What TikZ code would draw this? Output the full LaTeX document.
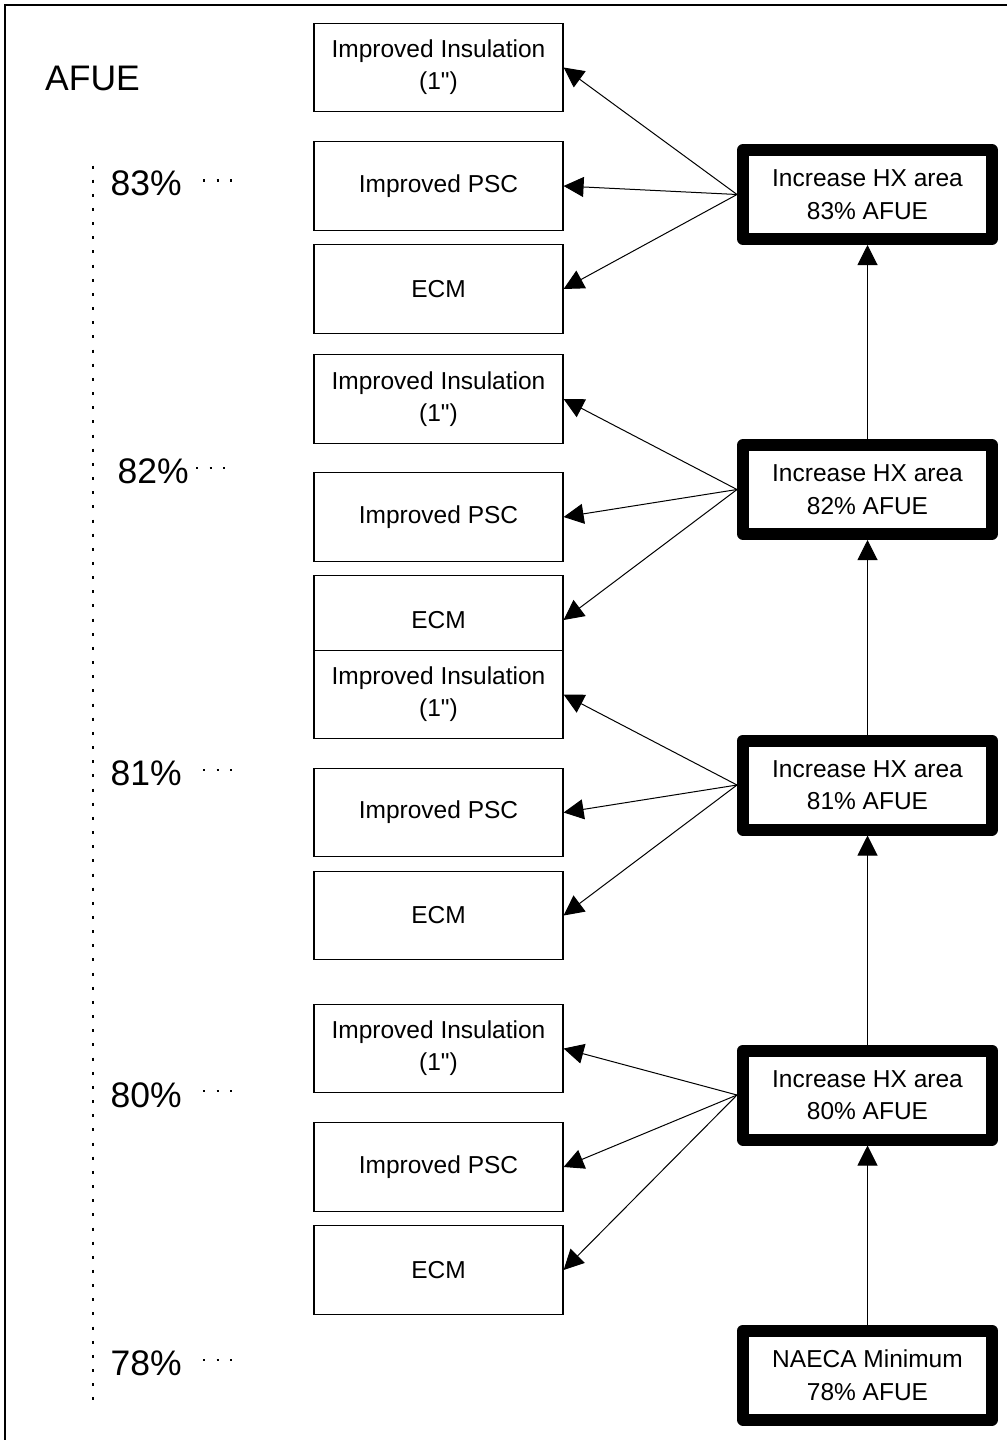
\documentclass[tikz,border=0pt]{standalone}
\usepackage{fontspec}
\setmainfont{Liberation Sans}
\font\qfont="Liberation Sans" at 24.5pt
\newcommand{\inch}{{\qfont"}}
\usetikzlibrary{arrows.meta}
\begin{document}
\begin{tikzpicture}[x=1pt,y=-1pt,
  opt/.style={draw=black, line width=1.2pt, fill=white, minimum width=249pt, minimum height=88.5pt, inner sep=0pt, align=center, font=\fontsize{24.5}{32}\selectfont},
  hx/.style={draw=black, line width=12pt, line join=round, fill=white, minimum width=249pt, minimum height=89pt, inner sep=0pt, outer sep=6pt, align=center, font=\fontsize{24.5}{32.5}\selectfont},
  big/.style={anchor=base west, inner sep=0pt, font=\fontsize{35.5}{40}\selectfont},
  conn/.style={line width=1pt, -{Triangle[length=20pt,width=20pt]}},
  ticks/.style={line width=2.4pt, dash pattern=on 2.4pt off 11.1pt},
  vdots/.style={line width=2.5pt, dash pattern=on 3pt off 11.16pt},
]
\useasboundingbox (0,0) rectangle (1007,1440);
% frame
\draw[line width=1.3pt] (5,1440) -- (5,5) -- (1007,5);

% option boxes
\node[opt] (i83) at (438.5,67.5) {Improved Insulation\\(1\inch)};
\node[opt] (p83) at (438.5,186) {Improved PSC};
\node[opt] (e83) at (438.5,289) {ECM};
\node[opt] (i82) at (438.5,399) {Improved Insulation\\(1\inch)};
\node[opt] (p82) at (438.5,517) {Improved PSC};
\node[opt] (e82) at (438.5,620) {ECM};
\node[opt] (i81) at (438.5,694.5) {Improved Insulation\\(1\inch)};
\node[opt] (p81) at (438.5,812.5) {Improved PSC};
\node[opt] (e81) at (438.5,915.5) {ECM};
\node[opt] (i80) at (438.5,1048.5) {Improved Insulation\\(1\inch)};
\node[opt] (p80) at (438.5,1167) {Improved PSC};
\node[opt] (e80) at (438.5,1270) {ECM};

% HX boxes
\node[hx] (r83) at (867.5,194.5) {Increase HX area\\83\% AFUE};
\node[hx] (r82) at (867.5,489.5) {Increase HX area\\82\% AFUE};
\node[hx] (r81) at (867.5,785) {Increase HX area\\81\% AFUE};
\node[hx] (r80) at (867.5,1095) {Increase HX area\\80\% AFUE};
\node[hx] (r78) at (867.5,1375) {NAECA Minimum\\78\% AFUE};

% connectors
\foreach \g in {83,82,81,80}{
  \foreach \t in {i,p,e}{
    \draw[conn] (r\g.west) -- (\t\g.east);
  }
}
\draw[conn] (r78.north) -- (r80.south);
\draw[conn] (r80.north) -- (r81.south);
\draw[conn] (r81.north) -- (r82.south);
\draw[conn] (r82.north) -- (r83.south);

% scale labels
\node[big] (afue) at (45,90) {AFUE};
\node[big] (l83) at (110.5,195) {83\%};
\node[big] (l82) at (117.5,483) {82\%};
\node[big] (l81) at (110.5,785) {81\%};
\node[big] (l80) at (110.5,1107) {80\%};
\node[big] (l78) at (110.5,1375) {78\%};

\draw[ticks] (203,180.5) -- (234,180.5);
\draw[ticks] (196,468) -- (227,468);
\draw[ticks] (203,770) -- (234,770);
\draw[ticks] (203,1091) -- (234,1091);
\draw[ticks] (203,1360) -- (234,1360);

\draw[vdots] (93,165.5) -- (93,1401);
\end{tikzpicture}
\end{document}
